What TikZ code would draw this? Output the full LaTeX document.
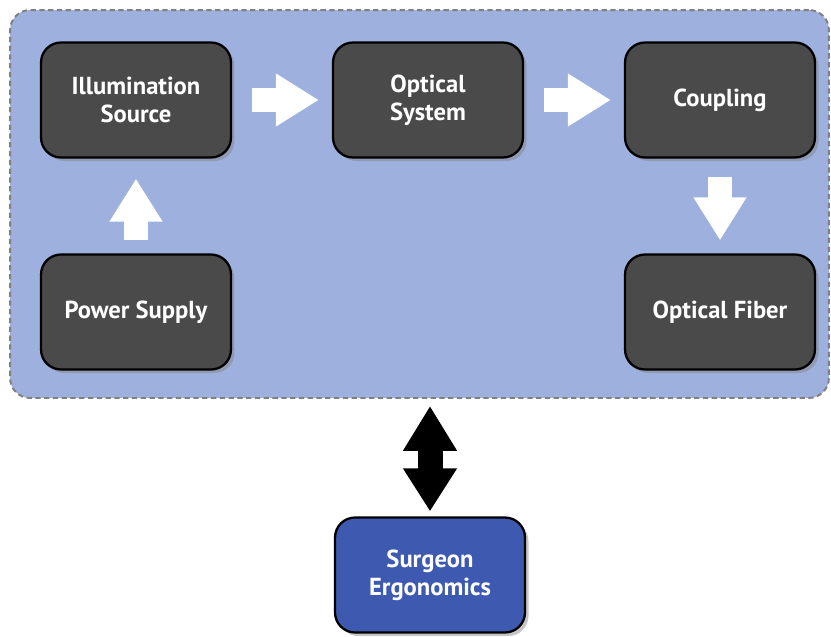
\documentclass[tikz,border=0pt]{standalone}
\usepackage{fontspec}
\setmainfont{PT Sans}
\usetikzlibrary{arrows.meta,shadows}

\definecolor{panelblue}{RGB}{158,176,222}
\definecolor{boxgray}{RGB}{74,74,74}
\definecolor{surgblue}{RGB}{62,90,176}

\begin{document}
\begin{tikzpicture}[x=0.02cm,y=-0.02cm,
    panel/.style={rectangle,rounded corners=0.4cm,fill=panelblue,draw=gray,dashed,line width=1.1pt,dash pattern=on 3pt off 2pt},
    blk/.style={rectangle,rounded corners=0.4cm,draw=black,line width=1.3pt,fill=boxgray,text=white,
        minimum width=3.8cm,minimum height=2.3cm,align=center,font=\fontsize{14}{16}\selectfont\bfseries,
        drop shadow={shadow xshift=2pt,shadow yshift=-2pt,opacity=0.45}},
    flow/.style={draw=white,line width=0.48cm,-{Triangle[length=0.86cm,width=1cm]}},
    link/.style={draw=black,line width=0.5cm,{Triangle[length=0.9cm,width=1.02cm]}-{Triangle[length=0.86cm,width=1.02cm]}}]
    \useasboundingbox (0,0) rectangle (831,636);
    \node[panel,minimum width=16.38cm,minimum height=7.76cm] (box) at (419.5,204) {};
    % top row
    \node[blk] (ill) at (136,100) {Illumination\\Source};
    \node[blk] (opt) at (428,100) {Optical\\System};
    \node[blk] (cpl) at (720,100) {Coupling};
    % bottom row
    \node[blk] (pwr) at (136,312) {Power Supply};
    \node[blk] (fib) at (720,312) {Optical Fiber};
    \node[blk,fill=surgblue] (srg) at (430,575) {Surgeon\\Ergonomics};
    % flow arrows
    \draw[flow,shorten <=0.4cm,shorten >=0.26cm] (ill.east) -- (opt.west);
    \draw[flow,shorten <=0.4cm,shorten >=0.26cm] (opt.east) -- (cpl.west);
    \draw[flow,shorten <=0.26cm,shorten >=0.4cm] (pwr.north) -- (ill.south);
    \draw[flow,shorten <=0.36cm,shorten >=0.26cm] (cpl.south) -- (fib.north);
    \draw[link,shorten <=0.14cm,shorten >=0.1cm] (box.south -| srg.north) -- (srg.north);
\end{tikzpicture}
\end{document}
